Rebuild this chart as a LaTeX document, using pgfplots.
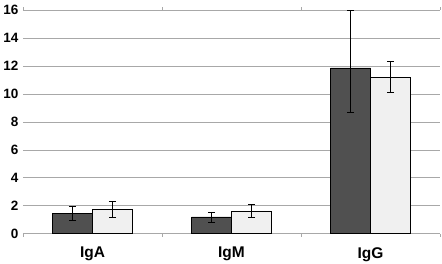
\documentclass[border=0pt]{standalone}
\usepackage{pgfplots}
\pgfplotsset{compat=1.18}
\usepackage{fontspec}
\setmainfont{Liberation Sans}
\definecolor{darkbar}{HTML}{505050}
\definecolor{lightbar}{HTML}{F0F0F0}
\definecolor{gridgray}{HTML}{A8A8A8}
\begin{document}
\begin{tikzpicture}
\begin{axis}[
  scale only axis,
  width=417pt, height=223.4pt,
  xmin=-0.5, xmax=2.5,
  ymin=0, ymax=16,
  ybar=0pt, bar width=40pt,
  ytick={0,2,...,16},
  yticklabel={\textbf{\pgfmathprintnumber{\tick}}},
  xtick={0,1,2},
  xticklabels={\textbf{IgA},\textbf{IgM},\textbf{IgG}},
  minor xtick={-0.5,0.5,1.5,2.5},
  /pgf/number format/assume math mode=true,
  yticklabel style={font=\fontsize{13.5}{15}\selectfont\bfseries, xshift=-1pt},
  xticklabel style={font=\fontsize{15.5}{17}\selectfont\bfseries, yshift=-10pt},
  ymajorgrids,
  grid style={gridgray, line width=0.8pt},
  axis line style={draw=none},
  major tick length=0pt,
  minor tick length=3pt,
  tick align=outside,
  minor tick style={gridgray, line width=0.8pt},
  ytick style={draw=none},
  clip=false,
]
\addplot[fill=darkbar, draw=black, line width=0.6pt,
  error bars/.cd, y dir=both, y explicit,
  error bar style={black, line width=0.7pt},
  error mark options={black, line width=0.7pt, rotate=90, mark size=3.5pt}]
coordinates {
  (0,1.43) +- (0,0.50)
  (1,1.20) +- (0,0.36)
  (2,11.87) += (0,4.13) -= (0,3.15)
};
\addplot[fill=lightbar, draw=black, line width=0.6pt,
  error bars/.cd, y dir=both, y explicit,
  error bar style={black, line width=0.7pt},
  error mark options={black, line width=0.7pt, rotate=90, mark size=3.5pt}]
coordinates {
  (0,1.75) +- (0,0.58)
  (1,1.63) +- (0,0.45)
  (2,11.22) +- (0,1.10)
};
\end{axis}
\pgfresetboundingbox
\path (-23pt,-30.3pt) rectangle (419pt,233.7pt);
\end{tikzpicture}
\end{document}
